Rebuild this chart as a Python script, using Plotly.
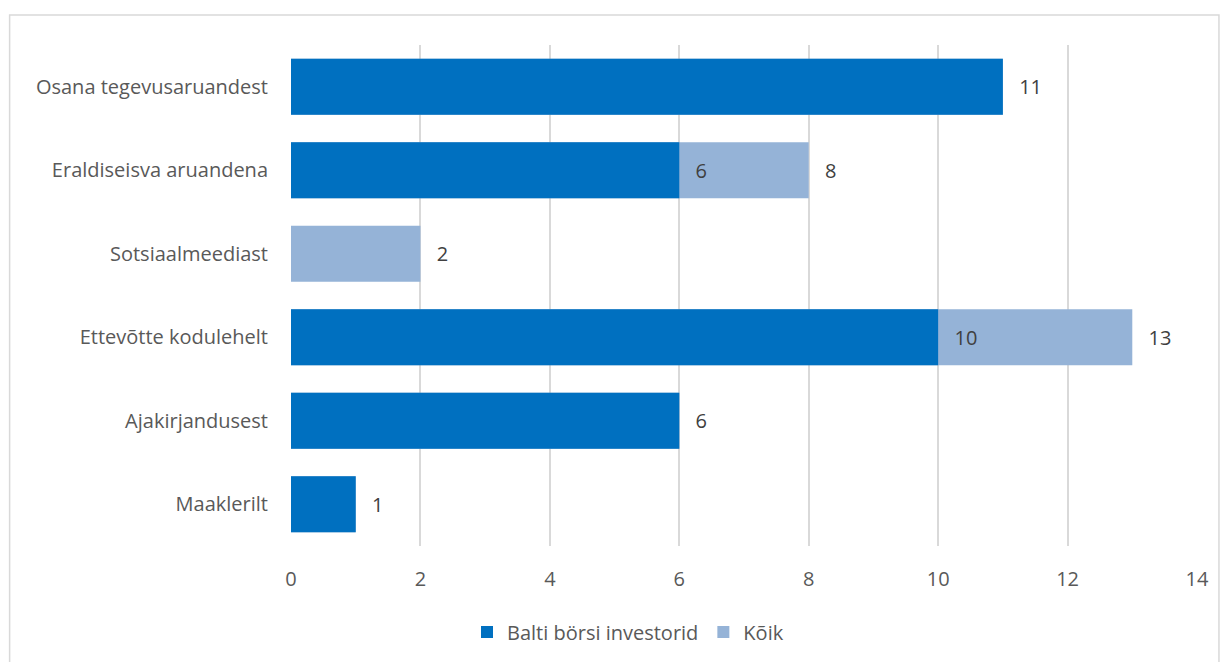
import plotly.graph_objects as go

categories = ["Maaklerilt", "Ajakirjandusest", "Ettevõtte kodulehelt", "Sotsiaalmeediast",
              "Eraldiseisva aruandena", "Osana tegevusaruandest"]
balti = [1, 6, 10, None, 6, 11]
koik = [1, 6, 13, 2, 8, 11]
x_ticks = [0, 2, 4, 6, 8, 10, 12, 14]

FONT = "Open Sans"
DARK = "#0070C0"
LIGHT = "#95B3D7"
FS = 20

koik_text = [str(k) if (b is None or k != b) else "" for k, b in zip(koik, balti)]
balti_text = ["" if b is None else str(b) for b in balti]
PAD = "\u2002\u2009"

fig = go.Figure()
fig.add_trace(go.Bar(
    y=categories, x=koik, orientation="h", name="Kõik",
    marker=dict(color=LIGHT, line=dict(width=0)), width=0.67,
    text=koik_text, texttemplate=PAD + "%{text}", textposition="outside", cliponaxis=False,
    textfont=dict(family=FONT, size=FS, color="#404040"),
))
fig.add_trace(go.Bar(
    y=categories, x=balti, orientation="h", name="Balti börsi investorid",
    marker=dict(color=DARK, line=dict(width=0)), width=0.67,
    text=balti_text, texttemplate=PAD + "%{text}", textposition="outside", cliponaxis=False,
    textfont=dict(family=FONT, size=FS, color="#404040"),
))

W, H = 1213, 654
fig.update_layout(
    width=W, height=H, autosize=False,
    barmode="overlay",
    paper_bgcolor="white", plot_bgcolor="white",
    margin=dict(l=283, r=W - 1191, t=37, b=H - 538),
    font=dict(family=FONT, size=FS, color="#595959"),
    xaxis=dict(range=[0, 14], tickvals=x_ticks, showgrid=True, gridcolor="#D9D9D9",
               gridwidth=1.5, zeroline=False, showline=False, ticks="",
               ticklabelstandoff=19, tickfont=dict(size=FS, color="#595959")),
    yaxis=dict(categoryorder="array", categoryarray=categories, showgrid=False,
               zeroline=False, showline=False, ticks="", ticklabelstandoff=22,
               tickfont=dict(size=FS, color="#595959")),
    legend=dict(orientation="h", traceorder="reversed", xref="container", yref="container",
                x=(628 - 8) / W, xanchor="center", y=1 - (632 - 8) / H, yanchor="middle",
                font=dict(size=FS, color="#595959"), itemwidth=30),
    bargap=0.33,
    shapes=[dict(type="rect", xref="paper", yref="paper",
                 x0=(1 - 283) / (1191 - 283), x1=(1213 - 283) / (1191 - 283),
                 y0=(538 - 700) / (538 - 37), y1=(538 - 7) / (538 - 37),
                 line=dict(color="#D9D9D9", width=1.5),
                 fillcolor="rgba(0,0,0,0)", layer="below")],
)

fig.write_html("out.html")
